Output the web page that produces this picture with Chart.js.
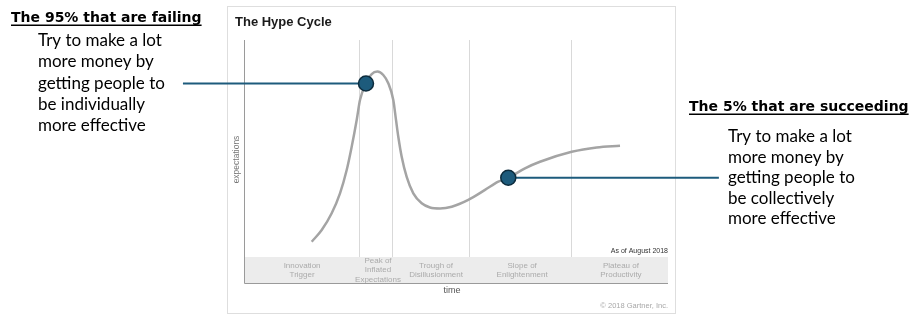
<!DOCTYPE html>
<html>
<head>
<meta charset="utf-8">
<script src="https://cdn.jsdelivr.net/npm/chart.js@4.4.1/dist/chart.umd.min.js"></script>
<style>
  html, body { margin: 0; padding: 0; background: #fff; }
  canvas { display: block; }
</style>
</head>
<body>
<canvas id="hype" width="920" height="316"></canvas>
<script>
// time (0-100) and expectations (0-100)
const curveTime = [15.97, 18.33, 20.68, 22.64, 24.22, 25.40, 26.58, 27.36, 28.77, 30.12, 31.44, 32.85, 34.03, 35.21, 35.85, 36.39, 37.19, 38.37, 39.93, 41.91, 43.87, 46.23, 48.99, 52.90, 56.84, 59.98, 62.33, 66.27, 69.81, 77.29, 83.18, 88.68];
const curveExpect = [17.0, 21.8, 28.7, 36.9, 46.5, 56.1, 67.1, 75.3, 82.1, 86.0, 87.0, 85.6, 82.2, 75.3, 67.1, 60.2, 52.0, 43.7, 36.9, 32.8, 31.1, 30.7, 31.4, 34.2, 38.3, 41.7, 43.3, 47.2, 49.9, 54.0, 55.8, 56.5];

const markerTime = [28.77, 62.33];
const markerExpect = [82.1, 43.3];
const calloutEnds = [-14.4, 112.0];

const phaseBounds = [27.2, 35.0, 53.1, 77.1];
const phaseCenters = [13.7, 31.6, 45.3, 65.6, 88.9];
const phaseLabels = [
  ['Innovation', 'Trigger'],
  ['Peak of', 'Inflated', 'Expectations'],
  ['Trough of', 'Disillusionment'],
  ['Slope of', 'Enlightenment'],
  ['Plateau of', 'Productivity']
];
const bandTop = 10.7;

const failingTitle = 'The 95% that are failing';
const failingLines = ['Try to make a lot', 'more money by', 'getting people to', 'be individually', 'more effective'];
const succeedTitle = 'The 5% that are succeeding';
const succeedLines = ['Try to make a lot', 'more money by', 'getting people to', 'be collectively', 'more effective'];

const BLUE = '#1d5b7c';
const BODY_FONT = '17px Lato, "Liberation Sans", sans-serif';
const HEAD_FONT = 'bold 14px "DejaVu Sans", sans-serif';

function underlined(ctx, text, x, y) {
  ctx.fillText(text, x, y);
  const w = ctx.measureText(text).width;
  ctx.fillRect(x, y + 2.5, w, 1.5);
}

const hypeDecor = {
  id: 'hypeDecor',
  beforeDatasetsDraw(chart) {
    const { ctx, chartArea: a, scales: { x, y } } = chart;
    ctx.save();

    // frame of the gartner picture
    ctx.strokeStyle = '#dedede';
    ctx.lineWidth = 1;
    ctx.strokeRect(a.left - 16.5, a.top - 33.5, a.right - a.left + 24, a.bottom - a.top + 64);

    ctx.fillStyle = '#1a1a1a';
    ctx.font = 'bold 13px "Liberation Sans", Arial, sans-serif';
    ctx.textBaseline = 'alphabetic';
    ctx.fillText('The Hype Cycle', a.left - 9, a.top - 14);

    // phase dividers
    ctx.strokeStyle = '#d9d9d9';
    phaseBounds.forEach((t) => {
      const px = Math.round(x.getPixelForValue(t)) + 0.5;
      ctx.beginPath();
      ctx.moveTo(px, a.top);
      ctx.lineTo(px, a.bottom);
      ctx.stroke();
    });

    // grey band with phase names
    const bt = y.getPixelForValue(bandTop);
    ctx.fillStyle = '#ececec';
    ctx.fillRect(a.left, bt, a.right - a.left, a.bottom - bt);
    ctx.fillStyle = '#ababab';
    ctx.font = '8px "Liberation Sans", Arial, sans-serif';
    ctx.textAlign = 'center';
    ctx.textBaseline = 'middle';
    const mid = (bt + a.bottom) / 2;
    phaseLabels.forEach((lines, i) => {
      const cx = x.getPixelForValue(phaseCenters[i]);
      lines.forEach((l, j) => {
        ctx.fillText(l, cx, mid + (j - (lines.length - 1) / 2) * 9.4);
      });
    });

    // axes
    ctx.strokeStyle = '#9a9a9a';
    ctx.beginPath();
    ctx.moveTo(a.left + 0.5, a.top);
    ctx.lineTo(a.left + 0.5, a.bottom + 0.5);
    ctx.lineTo(a.right, a.bottom + 0.5);
    ctx.stroke();

    ctx.fillStyle = '#555';
    ctx.font = '9px "Liberation Sans", Arial, sans-serif';
    ctx.fillText('time', (a.left + a.right) / 2 - 4, a.bottom + 8);

    ctx.save();
    ctx.translate(a.left - 7, (a.top + a.bottom) / 2 - 2);
    ctx.rotate(-Math.PI / 2);
    ctx.fillStyle = '#777';
    ctx.font = '8.5px "Liberation Sans", Arial, sans-serif';
    ctx.fillText('expectations', 0, 0);
    ctx.restore();

    ctx.textAlign = 'right';
    ctx.fillStyle = '#333';
    ctx.font = '7px "Liberation Sans", Arial, sans-serif';
    ctx.fillText('As of August 2018', a.right, bt - 6);
    ctx.fillStyle = '#a8a8a8';
    ctx.font = '7.5px "Liberation Sans", Arial, sans-serif';
    ctx.fillText('\u00a9 2018 Gartner, Inc.', a.right, a.bottom + 23);
    ctx.restore();
  },
  afterDraw(chart) {
    const ctx = chart.ctx;
    ctx.save();
    ctx.fillStyle = '#000';
    ctx.textBaseline = 'alphabetic';
    ctx.textAlign = 'left';

    ctx.font = HEAD_FONT;
    underlined(ctx, failingTitle, 11, 22);
    ctx.font = BODY_FONT;
    failingLines.forEach((l, i) => ctx.fillText(l, 38, 46 + i * 21.3));

    ctx.font = HEAD_FONT;
    underlined(ctx, succeedTitle, 689, 111);
    ctx.font = BODY_FONT;
    succeedLines.forEach((l, i) => ctx.fillText(l, 728, 142 + i * 20.5));
    ctx.restore();
  }
};

const curve = curveTime.map((t, i) => ({ x: t, y: curveExpect[i] }));
const markers = markerTime.map((t, i) => ({ x: t, y: markerExpect[i] }));
const callouts = markerTime.map((t, i) => [{ x: calloutEnds[i], y: markerExpect[i] }, { x: t, y: markerExpect[i] }]);

new Chart(document.getElementById('hype'), {
  type: 'scatter',
  data: {
    datasets: [
      {
        label: 'Positions',
        data: markers,
        pointRadius: 7.5,
        pointBackgroundColor: BLUE,
        pointBorderColor: '#0d2c3d',
        pointBorderWidth: 1.5,
        showLine: false,
        clip: false
      },
      {
        label: 'Failing',
        data: callouts[0],
        showLine: true,
        borderColor: BLUE,
        borderWidth: 2,
        pointRadius: 0,
        clip: false
      },
      {
        label: 'Succeeding',
        data: callouts[1],
        showLine: true,
        borderColor: BLUE,
        borderWidth: 2,
        pointRadius: 0,
        clip: false
      },
      {
        label: 'Hype curve',
        data: curve,
        showLine: true,
        borderColor: '#a4a4a4',
        borderWidth: 2.5,
        cubicInterpolationMode: 'monotone',
        pointRadius: 0,
        clip: false
      }
    ]
  },
  options: {
    responsive: false,
    devicePixelRatio: 1,
    animation: false,
    layout: { padding: { left: 244, right: 252, top: 40, bottom: 33 } },
    scales: {
      x: { type: 'linear', min: 0, max: 100, display: false },
      y: { type: 'linear', min: 0, max: 100, display: false }
    },
    plugins: {
      legend: { display: false },
      tooltip: { enabled: false }
    }
  },
  plugins: [hypeDecor]
});
</script>
</body>
</html>
